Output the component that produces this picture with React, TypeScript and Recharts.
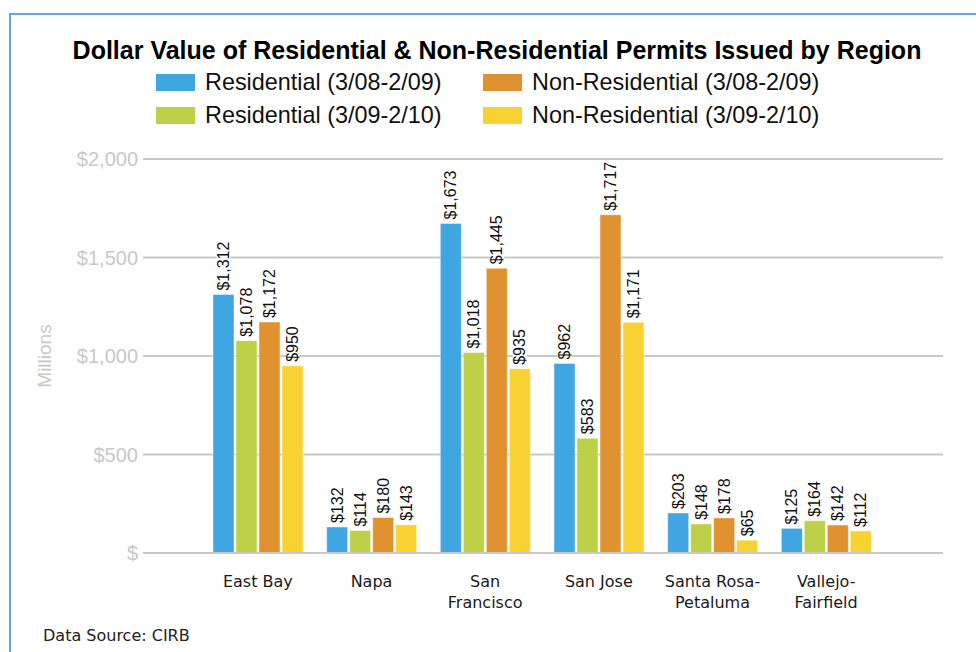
import { BarChart, Bar, XAxis, YAxis, CartesianGrid, LabelList } from 'recharts'

const regions = ['East Bay', 'Napa', 'San\nFrancisco', 'San Jose', 'Santa Rosa-\nPetaluma', 'Vallejo-\nFairfield']
const res0809 = [1312, 132, 1673, 962, 203, 125]
const res0910 = [1078, 114, 1018, 583, 148, 164]
const nonRes0809 = [1172, 180, 1445, 1717, 178, 142]
const nonRes0910 = [950, 143, 935, 1171, 65, 112]
const yTicks = [0, 500, 1000, 1500, 2000]

const series = [
  { key: 'res0809', name: 'Residential (3/08-2/09)', color: '#3fa6e1' },
  { key: 'res0910', name: 'Residential (3/09-2/10)', color: '#bdd148' },
  { key: 'nonRes0809', name: 'Non-Residential (3/08-2/09)', color: '#e09230' },
  { key: 'nonRes0910', name: 'Non-Residential (3/09-2/10)', color: '#f8d233' },
]

const data = regions.map((region, i) => ({
  region,
  res0809: res0809[i],
  res0910: res0910[i],
  nonRes0809: nonRes0809[i],
  nonRes0910: nonRes0910[i],
}))

const SANS = '"Liberation Sans", Arial, sans-serif'
const VERD = '"DejaVu Sans", Verdana, sans-serif'

const money = (v: number) => (v === 0 ? '$' : '$' + String(v).replace(/\B(?=(\d{3})+(?!\d))/g, ','))

const XTick = (props: any) => {
  const { x, y, payload } = props
  const lines = String(payload.value).split('\n')
  return (
    <text x={x} y={y} textAnchor="middle" fontFamily={VERD} fontSize={16} fill="#1a1a1a">
      {lines.map((l, i) => (
        <tspan key={i} x={x} dy={i === 0 ? 34 : 21}>
          {l}
        </tspan>
      ))}
    </text>
  )
}

const ValueLabel = (props: any) => {
  const { x, y, width, value } = props
  const cx = Number(x) + Number(width) / 2
  const ty = Number(y) - 4
  const s = money(value)
  const len = s.split('').reduce((a, c) => a + (c === ',' ? 4.45 : 8.9), 0)
  return (
    <g transform={`rotate(-90, ${cx}, ${ty})`}>
      <rect x={cx - 1} y={ty - 7} width={len + 2} height={14} fill="#fff" />
      <text x={cx} y={ty} dominantBaseline="central" fontFamily={SANS} fontSize={16} fill="#111">
        {s}
      </text>
    </g>
  )
}

// legend is laid out column-major: residential on the left, non-residential on the right
const legendPos = [
  { left: 156, top: 74 },
  { left: 156, top: 107 },
  { left: 483, top: 74 },
  { left: 483, top: 107 },
]

export default function App() {
  return (
    <div style={{ position: 'absolute', left: 0, top: 0, width: 976, height: 652, background: '#fff', overflow: 'hidden' }}>
      <div style={{ position: 'absolute', left: 9, top: 13, right: -10, bottom: -10, borderTop: '2px solid #5aa9e0', borderLeft: '2px solid #5aa9e0' }} />
      <div
        style={{
          position: 'absolute',
          left: 0,
          width: 994,
          top: 36,
          textAlign: 'center',
          fontFamily: SANS,
          fontWeight: 'bold',
          fontSize: 25,
          lineHeight: '28px',
          color: '#000',
        }}
      >
        Dollar Value of Residential &amp; Non-Residential Permits Issued by Region
      </div>
      {series.map((s, i) => (
        <div key={s.key} style={{ position: 'absolute', left: legendPos[i].left, top: legendPos[i].top, height: 17, display: 'flex', alignItems: 'center' }}>
          <div style={{ width: 39, height: 17, background: s.color }} />
          <span style={{ marginLeft: 10, fontFamily: SANS, fontSize: 23.4, color: '#111', whiteSpace: 'nowrap' }}>{s.name}</span>
        </div>
      ))}
      <div
        style={{
          position: 'absolute',
          left: 45,
          top: 356,
          transform: 'translate(-50%, -50%) rotate(-90deg)',
          fontFamily: SANS,
          fontSize: 19,
          color: '#c8c8c8',
        }}
      >
        Millions
      </div>
      <div style={{ position: 'absolute', left: 43, top: 626, fontFamily: VERD, fontSize: 16, lineHeight: '20px', color: '#222' }}>
        Data Source: CIRB
      </div>
      <div style={{ position: 'absolute', left: 0, top: 0 }}>
        <BarChart
          width={976}
          height={652}
          data={data}
          margin={{ top: 159, right: 33, bottom: 69, left: 0 }}
          barCategoryGap={12}
          barGap={2}
        >
          <CartesianGrid vertical={false} stroke="#c8c8c8" strokeWidth={2} />
          <XAxis
            dataKey="region"
            height={30}
            padding={{ left: 58, right: 60 }}
            axisLine={{ stroke: '#c8c8c8', strokeWidth: 2 }}
            tickLine={false}
            tickSize={0}
            tickMargin={0}
            interval={0}
            tick={<XTick />}
          />
          <YAxis
            width={143}
            domain={[0, 2000]}
            ticks={yTicks}
            axisLine={false}
            tickLine={false}
            tickSize={5}
            tickMargin={0}
            tickFormatter={money}
            tick={{ fontFamily: SANS, fontSize: 20, fill: '#c8c8c8' }}
          />
          {series.map(s => (
            <Bar key={s.key} dataKey={s.key} name={s.name} fill={s.color} stroke="rgba(255,255,255,0.45)" strokeWidth={1} isAnimationActive={false}>
              <LabelList dataKey={s.key} content={<ValueLabel />} />
            </Bar>
          ))}
        </BarChart>
      </div>
    </div>
  )
}
